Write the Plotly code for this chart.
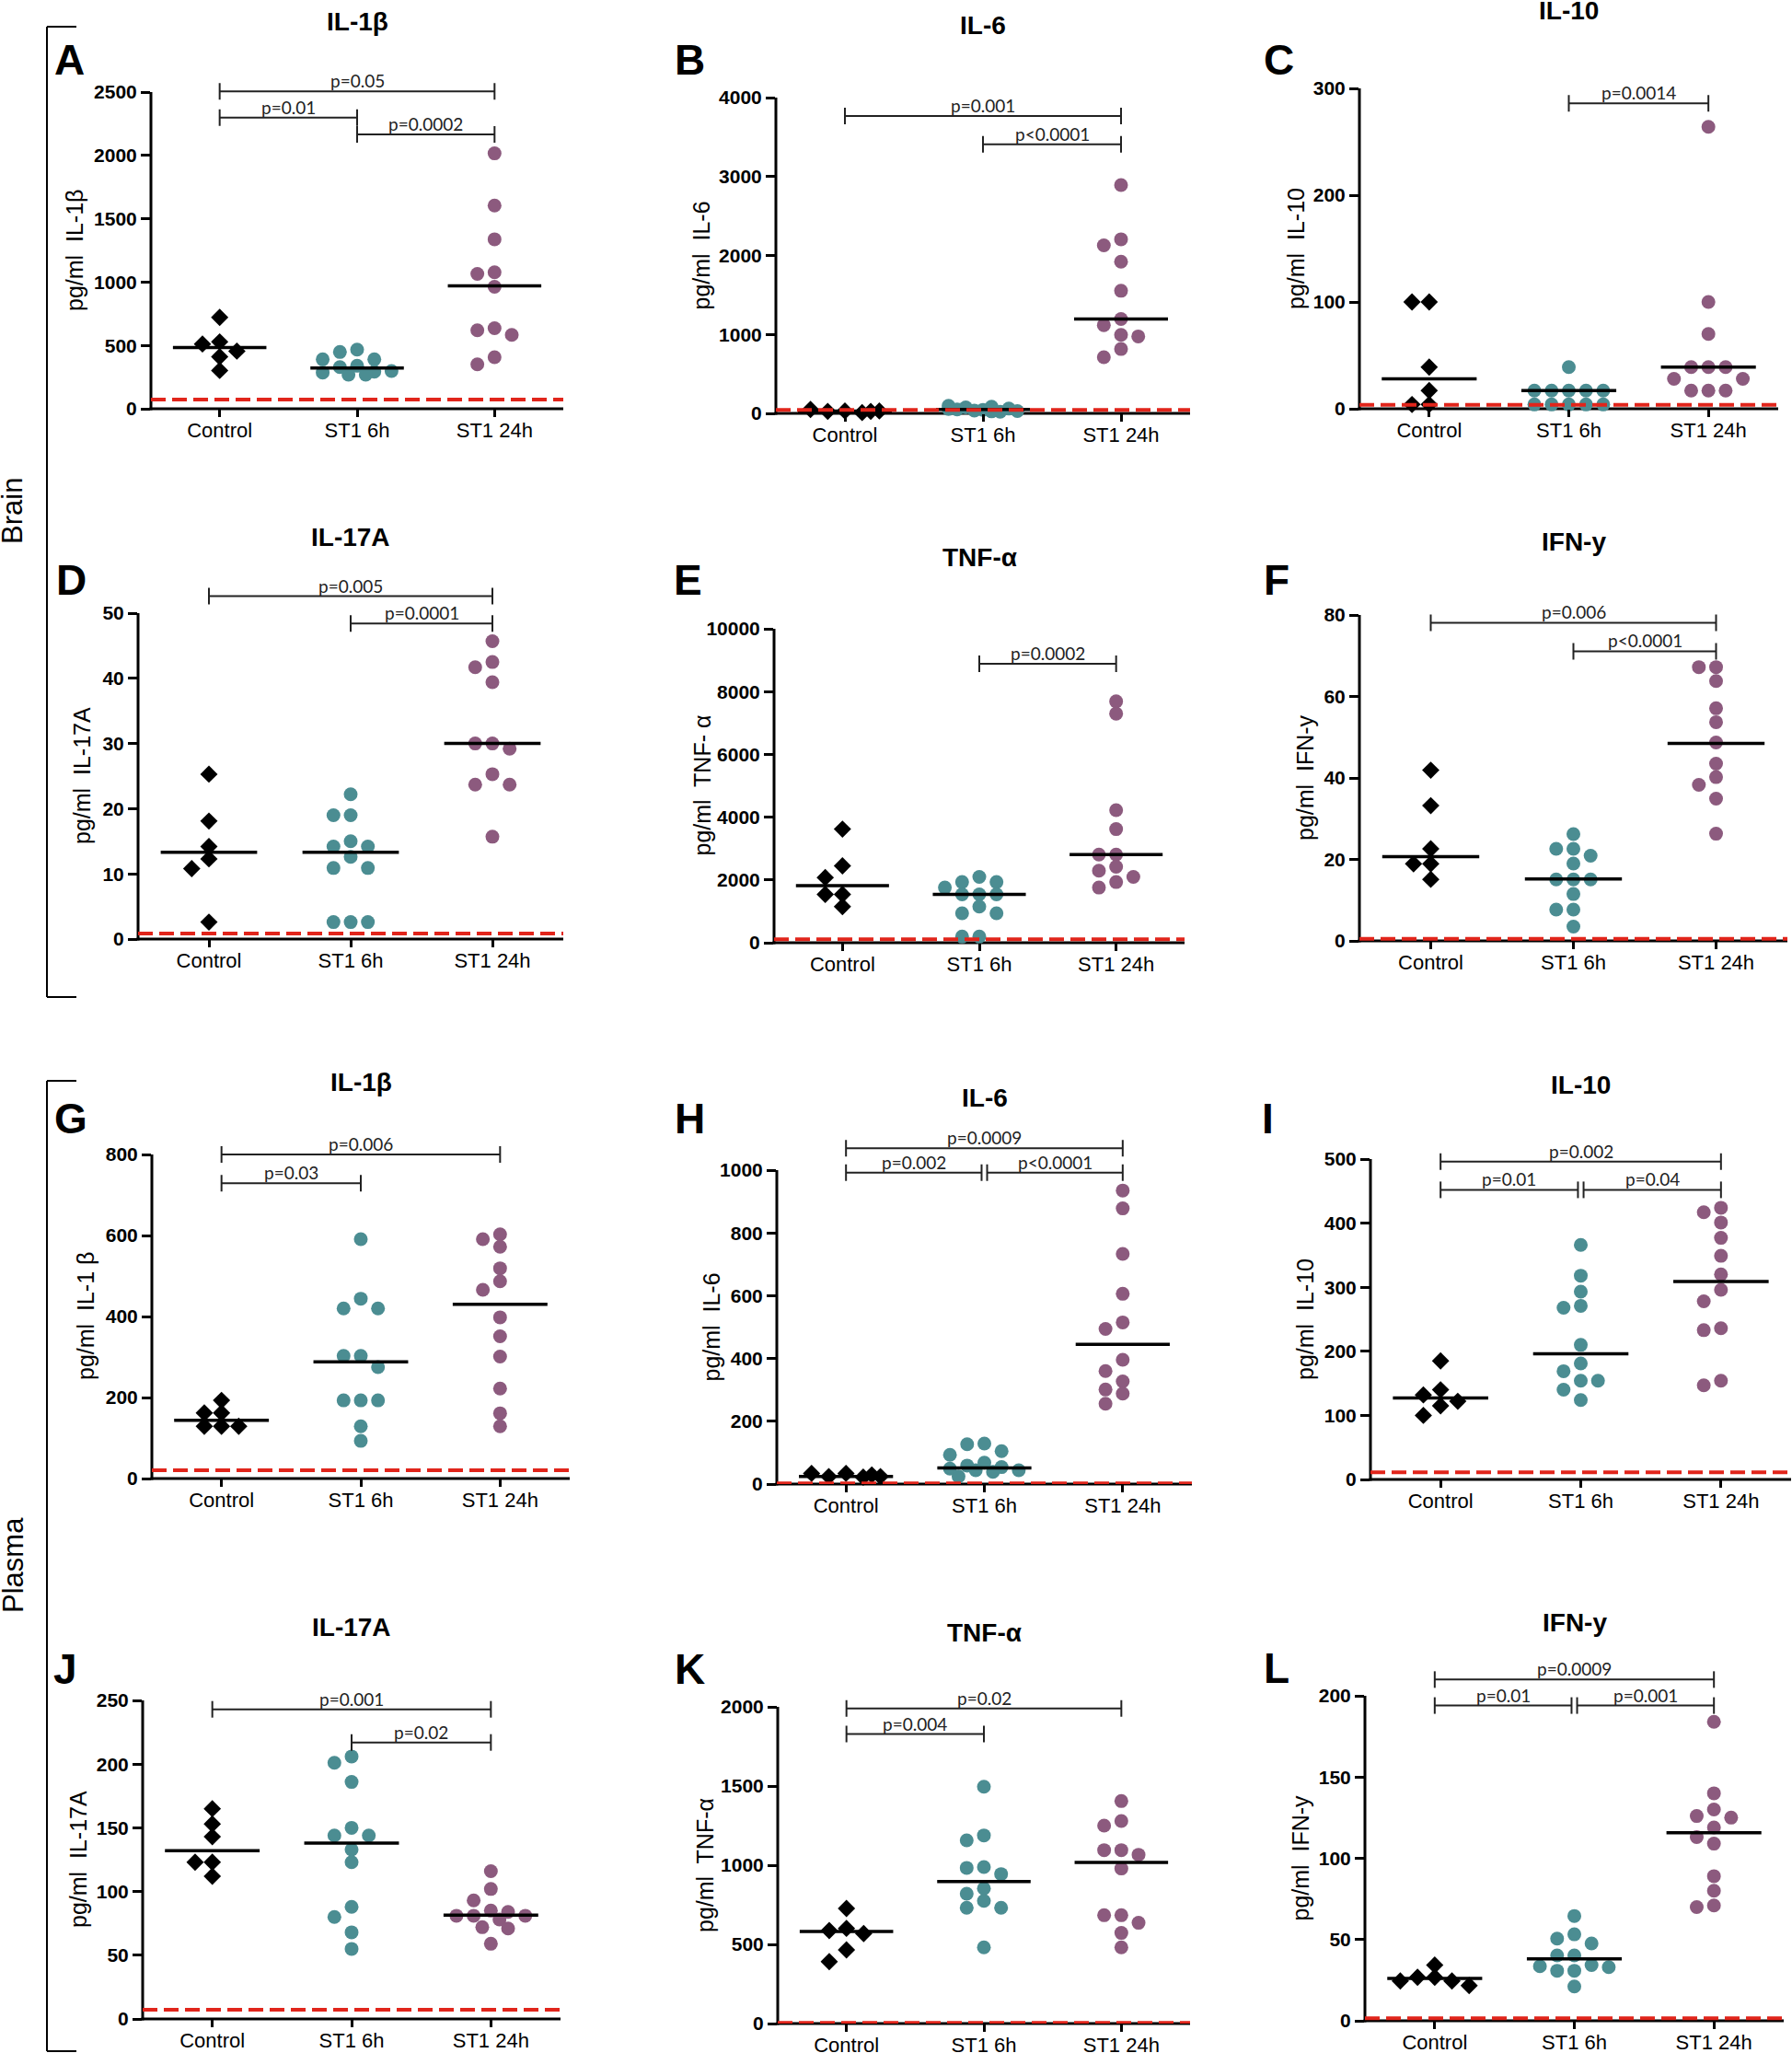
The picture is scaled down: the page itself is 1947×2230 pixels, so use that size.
import plotly.graph_objects as go

W, H = 1947, 2230
GROUPS = ["Control", "ST1 6h", "ST1 24h"]
MARK_COLORS = ["#000000", "#4b8d92", "#8c5a7e"]
MARK_SYMBOLS = ["diamond", "circle", "circle"]
MARK_SIZES = [14.5, 15, 15]
LOD_COLOR = "#e1251b"
FONT = "Arial, Liberation Sans, sans-serif"
PFONT = "Lato, Carlito, sans-serif"

# ---------------- data (pg/ml) ----------------
# Brain
A_ctrl = [721, 528, 511, 455, 411, 302]
A_6h = [467, 448, 390, 390, 339, 329, 298, 293, 286, 269, 269]
A_24h = [2016, 1604, 1338, 1077, 1065, 963, 636, 620, 583, 407, 351]
A_med = [483, 322, 970]
A_lod = 73
A_brk = [(0, 2, 2505, "p=0.05"), (0, 1, 2299, "p=0.01"), (1, 2, 2166, "p=0.0002")]

B_ctrl = [30, 25, 10, 50, 30, 25]
B_6h = [45, 75, 20, 95, 30, 60, 50, 85, 35, 55, 25]
B_24h = [2893, 2205, 2128, 1922, 1553, 1196, 1118, 994, 975, 815, 711]
B_med = [28, 50, 1196]
B_lod = 43
B_brk = [(0, 2, 3766, "p=0.001"), (1, 2, 3409, "p<0.0001")]

C_ctrl = [100, 100, 39, 17, 4, 4]
C_6h = [39, 17, 17, 17, 17, 17, 4, 4, 4, 4, 4]
C_24h = [264, 100, 70, 39, 39, 39, 28, 28, 17, 17, 17]
C_med = [28, 17, 39]
C_lod = 3.7
C_brk = [(1, 2, 286, "p=0.0014")]

D_ctrl = [25.3, 18.1, 14.2, 12.3, 10.8, 2.6]
D_6h = [22.2, 19.0, 19.0, 15.0, 14.2, 14.2, 12.6, 10.9, 10.9, 2.6, 2.6, 2.6]
D_24h = [45.7, 42.5, 41.7, 39.4, 30.0, 30.0, 29.2, 25.3, 23.7, 23.7, 15.7]
D_med = [13.3, 13.3, 30.0]
D_lod = 0.85
D_brk = [(0, 2, 52.6, "p=0.005"), (1, 2, 48.4, "p=0.0001")]

E_ctrl = [3619, 2449, 2078, 1541, 1541, 1151]
E_6h = [2098, 1932, 1932, 1756, 1541, 1541, 1541, 1151, 937, 937, 195, 195]
E_24h = [7688, 7298, 4224, 3619, 2810, 2810, 2420, 2293, 2098, 1932, 1756]
E_med = [1815, 1541, 2810]
E_lod = 107
E_brk = [(1, 2, 8888, "p=0.0002")]

F_ctrl = [41.9, 33.2, 22.6, 18.9, 18.9, 15.1]
F_6h = [26.2, 22.6, 22.6, 20.9, 19.0, 15.1, 15.1, 15.1, 11.5, 7.7, 7.7, 3.5]
F_24h = [67.2, 67.2, 63.8, 57.1, 53.7, 48.7, 43.5, 40.2, 38.3, 34.9, 26.3]
F_med = [20.7, 15.2, 48.5]
F_lod = 0.5
F_brk = [(0, 2, 78.1, "p=0.006"), (1, 2, 71.1, "p<0.0001")]

# Plasma
G_ctrl = [193, 162, 162, 129, 129, 129]
G_6h = [591, 444, 420, 420, 303, 303, 275, 193, 193, 193, 129, 93]
G_24h = [603, 591, 572, 519, 487, 466, 398, 351, 301, 222, 161, 129]
G_med = [144, 288, 430]
G_lod = 20.5
G_brk = [(0, 2, 800, "p=0.006"), (0, 1, 729, "p=0.03")]

H_ctrl = [34, 24, 22, 34, 24, 29]
H_6h = [129, 127, 105, 93, 68, 59, 54, 49, 44, 44, 39, 24]
H_24h = [935, 878, 733, 606, 515, 494, 396, 360, 327, 301, 288, 256]
H_med = [24, 51, 445]
H_lod = 2
H_brk = [(0, 2, 1070, "p=0.0009"), (0, 1, 992, "p=0.002"), (1, 2, 992, "p<0.0001")]

I_ctrl = [185, 140, 132, 122, 115, 100]
I_6h = [366, 318, 293, 271, 268, 210, 181, 169, 154, 154, 140, 124]
I_24h = [424, 417, 401, 377, 349, 320, 296, 278, 236, 233, 154, 147]
I_med = [127, 196, 309]
I_lod = 11
I_brk = [(0, 2, 496, "p=0.002"), (0, 1, 452, "p=0.01"), (1, 2, 452, "p=0.04")]

J_ctrl = [165, 153, 143, 123, 123, 112]
J_6h = [206, 201, 186, 150, 144, 144, 133, 123, 88, 80, 68, 55]
J_24h = [116, 102, 93, 85, 84, 81, 81, 81, 78, 72, 71, 59]
J_med = [132, 138, 81.4]
J_lod = 7.2
J_brk = [(0, 2, 243, "p=0.001"), (1, 2, 217, "p=0.02")]

K_ctrl = [727, 601, 587, 568, 465, 391]
K_6h = [1496, 1188, 1157, 988, 983, 944, 853, 820, 775, 731, 731, 481]
K_24h = [1405, 1279, 1250, 1095, 1095, 1066, 979, 684, 684, 636, 572, 481]
K_med = [581, 897, 1017]
K_lod = 4
K_brk = [(0, 2, 1990, "p=0.02"), (0, 1, 1828, "p=0.004")]

L_ctrl = [34.3, 26.8, 26.8, 24.5, 24.5, 21.7]
L_6h = [64.5, 53.2, 50.6, 47.6, 40.2, 40.2, 34.3, 33.6, 33.0, 30.8, 30.8, 21.1]
L_24h = [184, 140, 130, 126, 125, 119, 113, 109, 89, 80, 71, 70]
L_med = [26, 38.1, 115.7]
L_lod = 1.5
L_brk = [(0, 2, 210, "p=0.0009"), (0, 1, 194, "p=0.01"), (1, 2, 194, "p=0.001")]

PANELS = [
    dict(key="A", title="IL-1β", ylabel="pg/ml  IL-1β", groups=[A_ctrl, A_6h, A_24h], med=A_med, lod=A_lod, top=2500, dtick=500, brk=A_brk),
    dict(key="B", title="IL-6", ylabel="pg/ml  IL-6", groups=[B_ctrl, B_6h, B_24h], med=B_med, lod=B_lod, top=4000, dtick=1000, brk=B_brk),
    dict(key="C", title="IL-10", ylabel="pg/ml  IL-10", groups=[C_ctrl, C_6h, C_24h], med=C_med, lod=C_lod, top=300, dtick=100, brk=C_brk),
    dict(key="D", title="IL-17A", ylabel="pg/ml  IL-17A", groups=[D_ctrl, D_6h, D_24h], med=D_med, lod=D_lod, top=50, dtick=10, brk=D_brk),
    dict(key="E", title="TNF-α", ylabel="pg/ml  TNF- α", groups=[E_ctrl, E_6h, E_24h], med=E_med, lod=E_lod, top=10000, dtick=2000, brk=E_brk),
    dict(key="F", title="IFN-y", ylabel="pg/ml  IFN-y", groups=[F_ctrl, F_6h, F_24h], med=F_med, lod=F_lod, top=80, dtick=20, brk=F_brk),
    dict(key="G", title="IL-1β", ylabel="pg/ml  IL-1 β", groups=[G_ctrl, G_6h, G_24h], med=G_med, lod=G_lod, top=800, dtick=200, brk=G_brk),
    dict(key="H", title="IL-6", ylabel="pg/ml  IL-6", groups=[H_ctrl, H_6h, H_24h], med=H_med, lod=H_lod, top=1000, dtick=200, brk=H_brk),
    dict(key="I", title="IL-10", ylabel="pg/ml  IL-10", groups=[I_ctrl, I_6h, I_24h], med=I_med, lod=I_lod, top=500, dtick=100, brk=I_brk),
    dict(key="J", title="IL-17A", ylabel="pg/ml  IL-17A", groups=[J_ctrl, J_6h, J_24h], med=J_med, lod=J_lod, top=250, dtick=50, brk=J_brk),
    dict(key="K", title="TNF-α", ylabel="pg/ml  TNF-α", groups=[K_ctrl, K_6h, K_24h], med=K_med, lod=K_lod, top=2000, dtick=500, brk=K_brk),
    dict(key="L", title="IFN-y", ylabel="pg/ml  IFN-y", groups=[L_ctrl, L_6h, L_24h], med=L_med, lod=L_lod, top=200, dtick=50, brk=L_brk),
]

# ---------------- layout (pixel positions) ----------------
# axis box: left, right, y of top tick, y of zero
BOX = {
    "A": (164, 612, 100, 444), "B": (843, 1293, 106, 449), "C": (1477, 1932, 96, 444),
    "D": (150, 612, 666, 1020), "E": (841, 1287, 683, 1024), "F": (1477, 1942, 668, 1022),
    "G": (165, 619, 1254, 1606), "H": (844, 1295, 1271, 1612), "I": (1489, 1946, 1259, 1607),
    "J": (155, 609, 1847, 2193), "K": (845, 1293, 1854, 2198), "L": (1483, 1938, 1842, 2195),
}
TITLE_Y = {"A": 23, "B": 27, "C": 12, "D": 583, "E": 605, "F": 588,
           "G": 1175, "H": 1192, "I": 1178, "J": 1767, "K": 1773, "L": 1762}
LETTER_XY = {"A": (75, 65), "B": (749, 65), "C": (1389, 65), "D": (77, 630), "E": (747, 630),
             "F": (1387, 630), "G": (77, 1215), "H": (749, 1215), "I": (1377, 1215),
             "J": (71, 1813), "K": (749, 1813), "L": (1387, 1812)}
YLAB_X = {"A": 81, "B": 762, "C": 1408, "D": 89, "E": 762, "F": 1418,
          "G": 93, "H": 772, "I": 1418, "J": 85, "K": 766, "L": 1412}
EXT = 1.2          # y range headroom for the brackets
STEP_PX = 18.7     # horizontal spacing of scatter columns
HALF_MED = 0.34    # half width of median bars (category units)
TICK_PX = 9        # bracket end tick half length


def swarm(vals, px_per_unit, cat_px, diam=13.0):
    cand = [0, -1, 1, -2, 2, -0.5, 0.5, -1.5, 1.5]
    placed, out = [], []
    for v in vals:
        y = v * px_per_unit
        best, best_d = 0, -1
        for k in cand:
            x = k * STEP_PX
            d = min((((x - px) ** 2 + (y - py) ** 2) ** 0.5 for px, py in placed), default=1e9)
            if d >= diam:
                best = k
                break
            if d > best_d:
                best, best_d = k, d
        placed.append((best * STEP_PX, y))
        out.append(best * STEP_PX / cat_px)
    return out


fig = go.Figure()
lay = {}
shapes, annotations = [], []

for i, p in enumerate(PANELS, start=1):
    key = p["key"]
    left, right, ytop, yzero = BOX[key]
    span_px = yzero - ytop
    dom_top = yzero - span_px * EXT
    dom_h = yzero - dom_top
    dom_w = right - left
    cat_px = dom_w / 3
    top = p["top"]
    sfx = "" if i == 1 else str(i)
    xr, yr = "x" + sfx, "y" + sfx
    tickv = list(range(0, top + 1, p["dtick"]))

    lay["xaxis" + sfx] = dict(
        domain=[left / W, right / W], range=[-0.5, 2.5], anchor=yr, automargin=False,
        tickvals=[0, 1, 2], ticktext=GROUPS, ticks="outside", ticklen=8, tickwidth=3,
        tickcolor="black", showline=False, showgrid=False, zeroline=False, ticklabelstandoff=-4,
        tickfont=dict(family=FONT, size=22, color="black"),
    )
    lay["yaxis" + sfx] = dict(
        domain=[1 - yzero / H, 1 - dom_top / H], range=[0, top * EXT], anchor=xr, automargin=False,
        tickvals=tickv, ticktext=["<b>%d</b>" % v for v in tickv], ticks="outside", ticklen=10,
        tickwidth=3, tickcolor="black", showline=False, showgrid=False, zeroline=False,
        tickfont=dict(family=FONT, size=21, color="black"),
    )

    # axis lines
    shapes.append(dict(type="line", xref=xr + " domain", yref=yr + " domain", x0=0, x1=0,
                       y0=-1.5 / dom_h, y1=1 / EXT, line=dict(color="black", width=3), layer="below"))
    shapes.append(dict(type="line", xref=xr + " domain", yref=yr + " domain", x0=-1.5 / dom_w, x1=1,
                       y0=0, y1=0, line=dict(color="black", width=3), layer="below"))

    # points
    for g, vals in enumerate(p["groups"]):
        offs = swarm(vals, span_px / top, cat_px)
        fig.add_trace(go.Scatter(
            x=[g + o for o in offs], y=vals, mode="markers", xaxis=xr, yaxis=yr,
            marker=dict(symbol=MARK_SYMBOLS[g], size=MARK_SIZES[g], color=MARK_COLORS[g], line=dict(width=0)),
            cliponaxis=False, showlegend=False, hoverinfo="skip",
        ))

    # medians
    mx, my = [], []
    for g, m in enumerate(p["med"]):
        mx += [g - HALF_MED, g + HALF_MED, None]
        my += [m, m, None]
    fig.add_trace(go.Scatter(x=mx, y=my, mode="lines", xaxis=xr, yaxis=yr,
                             line=dict(color="black", width=3.5), showlegend=False, hoverinfo="skip"))

    # detection limit
    fig.add_trace(go.Scatter(x=[-0.5, 2.5], y=[p["lod"], p["lod"]], mode="lines", xaxis=xr, yaxis=yr,
                             line=dict(color=LOD_COLOR, width=4, dash="16px,7px"),
                             showlegend=False, hoverinfo="skip"))

    # significance brackets
    tick_u = TICK_PX * top / span_px
    levels = {}
    for a, b, lvl, _ in p["brk"]:
        levels.setdefault(lvl, []).append((a, b))
    for a, b, lvl, txt in p["brk"]:
        x0, x1 = a, b
        others = levels[lvl]
        if any(oa == b for oa, ob in others if (oa, ob) != (a, b)):
            x1 = b - 0.02
        if any(ob == a for oa, ob in others if (oa, ob) != (a, b)):
            x0 = a + 0.02
        bl = dict(color="#222222", width=2)
        shapes.append(dict(type="line", xref=xr, yref=yr, x0=x0, x1=x1, y0=lvl, y1=lvl, line=bl))
        for xe in (x0, x1):
            shapes.append(dict(type="line", xref=xr, yref=yr, x0=xe, x1=xe,
                               y0=lvl - tick_u, y1=lvl + tick_u, line=bl))
        annotations.append(dict(x=(x0 + x1) / 2, y=lvl, xref=xr, yref=yr, text=txt, showarrow=False,
                                xanchor="center", yanchor="bottom", yshift=-2,
                                font=dict(family=PFONT, size=19, color="#222222")))

    # title, panel letter, y label
    annotations.append(dict(x=(left + right) / 2 / W, y=1 - TITLE_Y[key] / H, xref="paper", yref="paper",
                            text="<b>%s</b>" % p["title"], showarrow=False,
                            xanchor="center", yanchor="middle",
                            font=dict(family=FONT, size=28, color="black")))
    lx, ly = LETTER_XY[key]
    annotations.append(dict(x=lx / W, y=1 - ly / H, xref="paper", yref="paper", text="<b>%s</b>" % key,
                            showarrow=False, xanchor="center", yanchor="middle",
                            font=dict(family=FONT, size=46, color="black")))
    annotations.append(dict(x=YLAB_X[key] / W, y=1 - (ytop + yzero) / 2 / H, xref="paper", yref="paper",
                            text=p["ylabel"], textangle=-90, showarrow=False,
                            xanchor="center", yanchor="middle",
                            font=dict(family=FONT, size=25, color="black")))

# side labels and brackets
for label, yc, y0, y1 in [("Brain", 555, 29, 1083), ("Plasma", 1700, 1174, 2228)]:
    annotations.append(dict(x=14 / W, y=1 - yc / H, xref="paper", yref="paper", text=label,
                            textangle=-90, showarrow=False, xanchor="center", yanchor="middle",
                            font=dict(family=FONT, size=31, color="black")))
    sl = dict(color="black", width=2)
    shapes.append(dict(type="line", xref="paper", yref="paper", x0=51 / W, x1=51 / W,
                       y0=1 - y0 / H, y1=1 - y1 / H, line=sl))
    for yy in (y0, y1):
        shapes.append(dict(type="line", xref="paper", yref="paper", x0=51 / W, x1=83 / W,
                           y0=1 - yy / H, y1=1 - yy / H, line=sl))

fig.update_layout(
    width=W, height=H, margin=dict(l=0, r=0, t=0, b=0, autoexpand=False),
    paper_bgcolor="white", plot_bgcolor="rgba(0,0,0,0)",
    showlegend=False, shapes=shapes, annotations=annotations, **lay,
)
fig.write_html("out.html", config={"displayModeBar": False},
               post_script="document.body.style.margin = '0';")
